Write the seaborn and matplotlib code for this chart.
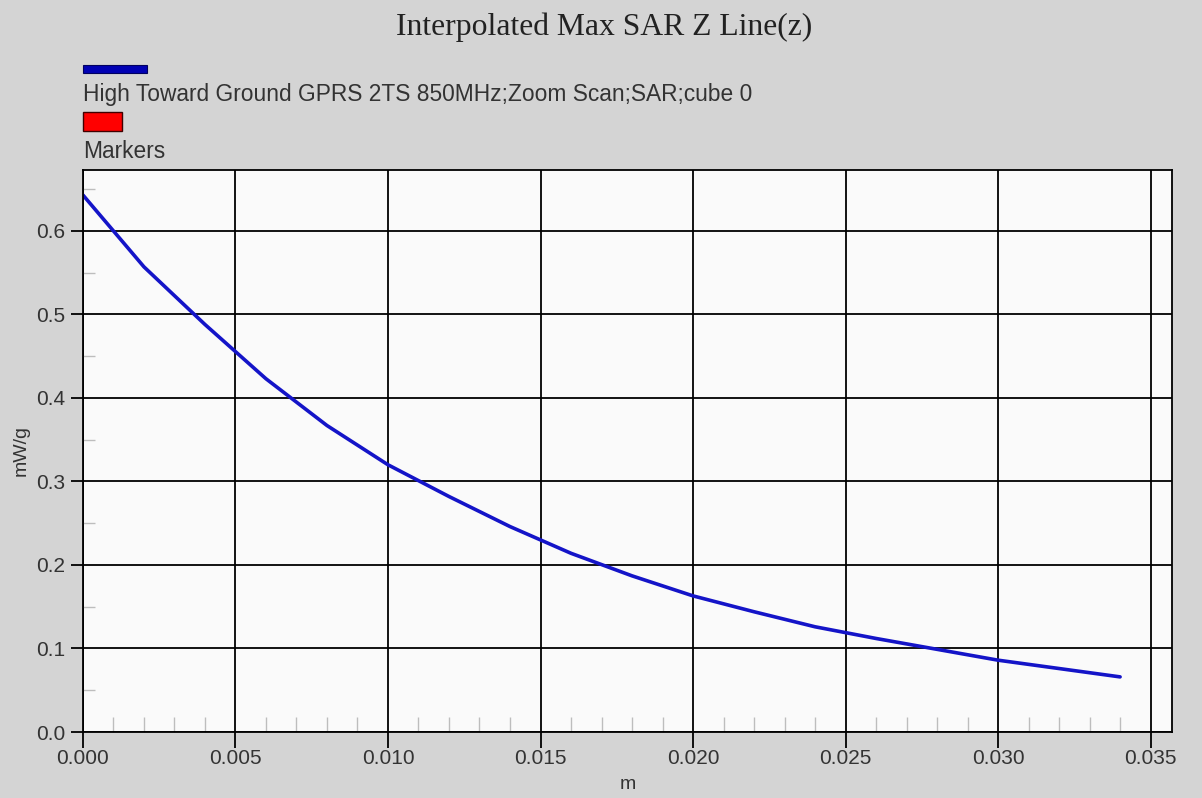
import numpy as np
import pandas as pd
import matplotlib
matplotlib.use("Agg")
import matplotlib.pyplot as plt
import seaborn as sns
from matplotlib.patches import Rectangle
from matplotlib.ticker import MultipleLocator, FormatStrFormatter

# Data
z_m = [0.000, 0.002, 0.004, 0.006, 0.008, 0.010, 0.012, 0.014, 0.016,
       0.018, 0.020, 0.022, 0.024, 0.026, 0.028, 0.030, 0.032, 0.034]
sar = [0.643, 0.557, 0.488, 0.423, 0.367, 0.320, 0.282, 0.246, 0.214,
       0.187, 0.163, 0.144, 0.126, 0.112, 0.099, 0.086, 0.076, 0.066]
series_name = "High Toward Ground GPRS 2TS 850MHz;Zoom Scan;SAR;cube 0"
marker_name = "Markers"
title = "Interpolated Max SAR Z Line(z)"
x_label = "m"
y_label = "mW/g"

df = pd.DataFrame({"m": z_m, "sar": sar})

sns.set_theme(style="white")
plt.rcParams["font.family"] = ["Liberation Sans", "DejaVu Sans"]

bg = "#d4d4d4"
txt = "#333333"
fig = plt.figure(figsize=(12.02, 7.98), dpi=100, facecolor=bg)
ax = fig.add_axes([0.069, 0.0827, 0.906, 0.7043])
ax.set_facecolor("#fafafa")

sns.lineplot(data=df, x="m", y="sar", ax=ax, color="#1414c8", linewidth=2.6)

ax.set_xlim(0, 0.0357)
ax.set_ylim(0, 0.673)
ax.xaxis.set_major_locator(MultipleLocator(0.005))
ax.xaxis.set_minor_locator(MultipleLocator(0.001))
ax.yaxis.set_major_locator(MultipleLocator(0.1))
ax.yaxis.set_minor_locator(MultipleLocator(0.05))
ax.xaxis.set_major_formatter(FormatStrFormatter("%.3f"))
ax.yaxis.set_major_formatter(FormatStrFormatter("%.1f"))

ax.grid(True, which="major", color="black", linewidth=1.3)
ax.set_axisbelow(True)
for s in ax.spines.values():
    s.set_color("black")
    s.set_linewidth(1.3)

ax.tick_params(axis="x", which="major", direction="out", length=11.5, width=1.3,
               color="black", labelsize=15, labelcolor=txt, pad=0.5, bottom=True)
ax.tick_params(axis="y", which="major", direction="out", length=8.6, width=1.3,
               color="black", labelsize=15, labelcolor=txt, pad=4, left=True)
ax.tick_params(axis="x", which="minor", direction="in", length=11, width=1,
               color="#bdbdbd", bottom=True)
ax.tick_params(axis="y", which="minor", direction="in", length=8.6, width=1,
               color="#bdbdbd", left=True)

ax.set_xlabel(x_label, fontsize=14, color=txt, labelpad=6)
ax.set_ylabel(y_label, fontsize=14, color=txt, labelpad=5)

fig.text(0.503, 1 - 27 / 798, title, ha="center", va="center",
         fontsize=22.8, family=["Liberation Serif", "DejaVu Serif"], color="#222222")

# Legend
W, H = 1202, 798
fig.patches.append(Rectangle((83 / W, 1 - 73 / H), 64 / W, 8 / H,
                             transform=fig.transFigure, facecolor="#0000b4",
                             edgecolor="#000060", linewidth=0.8))
fig.text(83 / W, 1 - 95 / H, series_name, ha="left", va="center",
         fontsize=16.4, color=txt)
fig.patches.append(Rectangle((83 / W, 1 - 131 / H), 39 / W, 19 / H,
                             transform=fig.transFigure, facecolor="#ff0000",
                             edgecolor="#400000", linewidth=1))
fig.text(83 / W, 1 - 151 / H, marker_name, ha="left", va="center",
         fontsize=16.4, color=txt)

fig.savefig("out.png", dpi=100, facecolor=bg)
